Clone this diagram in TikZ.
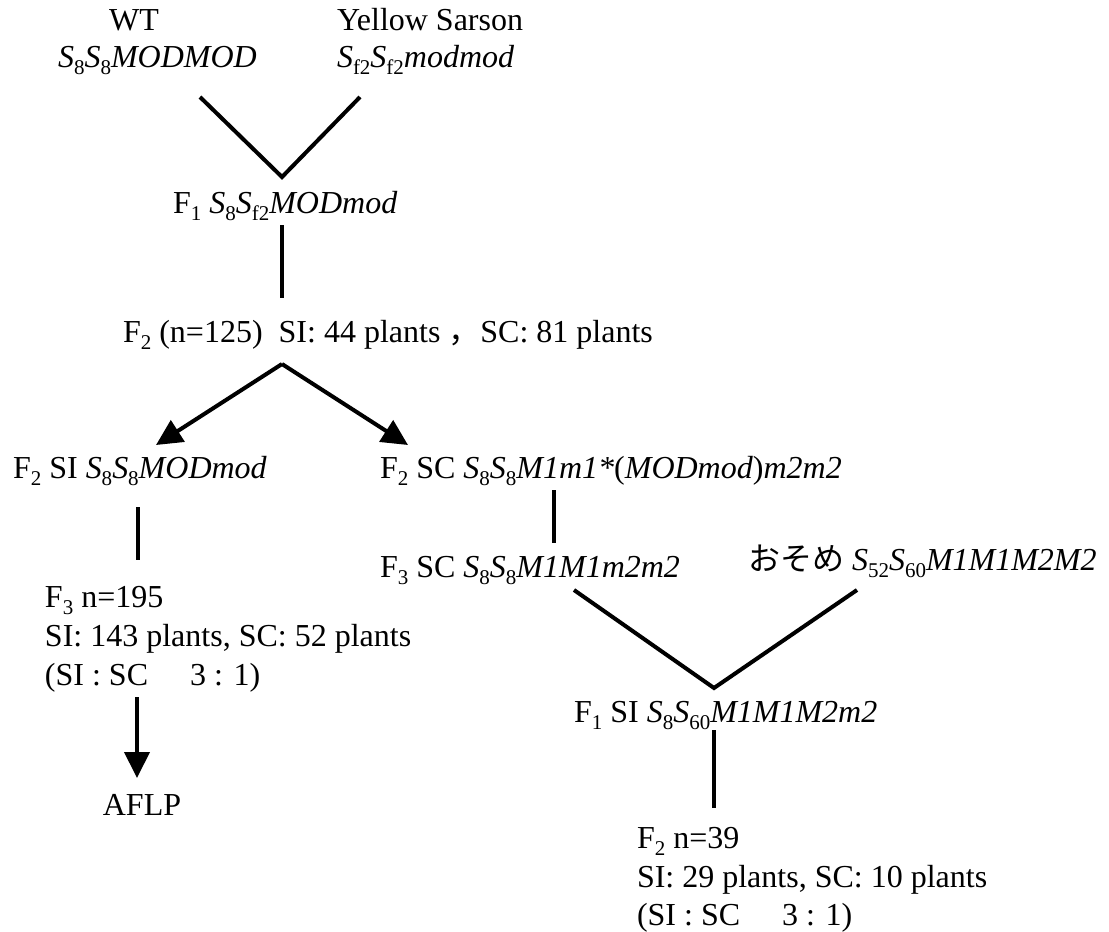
\documentclass[tikz,border=0pt]{standalone}
\usepackage{fontspec}
\setmainfont{Liberation Serif}
\newfontfamily\cjk{Noto Sans CJK JP}
\usetikzlibrary{arrows.meta}
\newcommand\sbs[1]{\raisebox{-0.22em}{\fontsize{21}{21}\selectfont\upshape #1}}
\begin{document}
\begin{tikzpicture}[x=1pt,y=-1pt,
  lbl/.style={anchor=base west,inner sep=0pt,outer sep=0pt,font=\fontsize{32}{39}\selectfont},
  lblc/.style={anchor=base,inner sep=0pt,outer sep=0pt,font=\fontsize{32}{39}\selectfont},
  ln/.style={line width=4pt},
  arr/.style={line width=4pt,-{Triangle[length=26pt,width=25pt]}}]
\useasboundingbox (0,0) rectangle (1109,932);

% top parents
\node[lblc] (wt) at (134,30) {WT};
\node[lbl] (wtg) at (58,67) {\textit{S\sbs{8}S\sbs{8}MODMOD}};
\node[lbl] (ys) at (337,30) {Yellow Sarson};
\node[lbl] (ysg) at (337,67) {\textit{S\sbs{f2}S\sbs{f2}modmod}};
\coordinate (v1a) at (200,97);
\coordinate (v1b) at (360,97);
\coordinate (v1v) at (282,177);
\draw[ln] (v1a) -- (v1v) -- (v1b);

% F1
\node[lbl] (f1) at (173,213) {F\sbs{1} \textit{S\sbs{8}S\sbs{f2}MODmod}};
\coordinate (f1d) at (282,225);
\coordinate (f2u) at (282,298);
\draw[ln] (f1d) -- (f2u);

% F2
\node[lbl] (f2) at (123,342) {F\sbs{2} (n=125)\ \ SI: 44 plants {\cjk ，}SC: 81 plants};
\coordinate (f2d) at (282,364);
\coordinate (siu) at (156,445);
\coordinate (scu) at (408,445);
\draw[arr] (f2d) -- (siu);
\draw[arr] (f2d) -- (scu);

\node[lbl] (f2si) at (13,478) {F\sbs{2} SI \textit{S\sbs{8}S\sbs{8}MODmod}};
\node[lbl] (f2sc) at (380,478) {F\sbs{2} SC \textit{S\sbs{8}S\sbs{8}M1m1*}(\textit{MODmod})\textit{m2m2}};

% left branch
\coordinate (l1a) at (138,507);
\coordinate (l1b) at (138,560);
\draw[ln] (l1a) -- (l1b);
\node[lbl] (f3a) at (45,607) {F\sbs{3} n=195};
\node[lbl] (f3b) at (45,646) {SI: 143 plants, SC: 52 plants};
\node[lbl] (f3c) at (45,685) {(SI : SC\hspace{42pt}3 : 1)};
\coordinate (a1a) at (137,697);
\coordinate (a1b) at (137,778);
\draw[arr] (a1a) -- (a1b);
\node[lblc] (aflp) at (142,815) {AFLP};

% right branch
\coordinate (m1a) at (554,490);
\coordinate (m1b) at (554,543);
\draw[ln] (m1a) -- (m1b);
\node[lbl] (f3sc) at (380,577) {F\sbs{3} SC \textit{S\sbs{8}S\sbs{8}M1M1m2m2}};
\node[lbl] (os) at (748,570) {{\cjk おそめ} \textit{S\sbs{52}S\sbs{60}M1M1M2M2}};
\coordinate (v2a) at (574,590);
\coordinate (v2b) at (857,590);
\coordinate (v2v) at (714,688);
\draw[ln] (v2a) -- (v2v) -- (v2b);
\node[lbl] (f1si) at (574,722) {F\sbs{1} SI \textit{S\sbs{8}S\sbs{60}M1M1M2m2}};
\coordinate (r1a) at (714,730);
\coordinate (r1b) at (714,808);
\draw[ln] (r1a) -- (r1b);
\node[lbl] (f2a) at (637,848) {F\sbs{2} n=39};
\node[lbl] (f2b) at (637,887) {SI: 29 plants, SC: 10 plants};
\node[lbl] (f2c) at (637,925) {(SI : SC\hspace{42pt}3 : 1)};
\end{tikzpicture}
\end{document}
